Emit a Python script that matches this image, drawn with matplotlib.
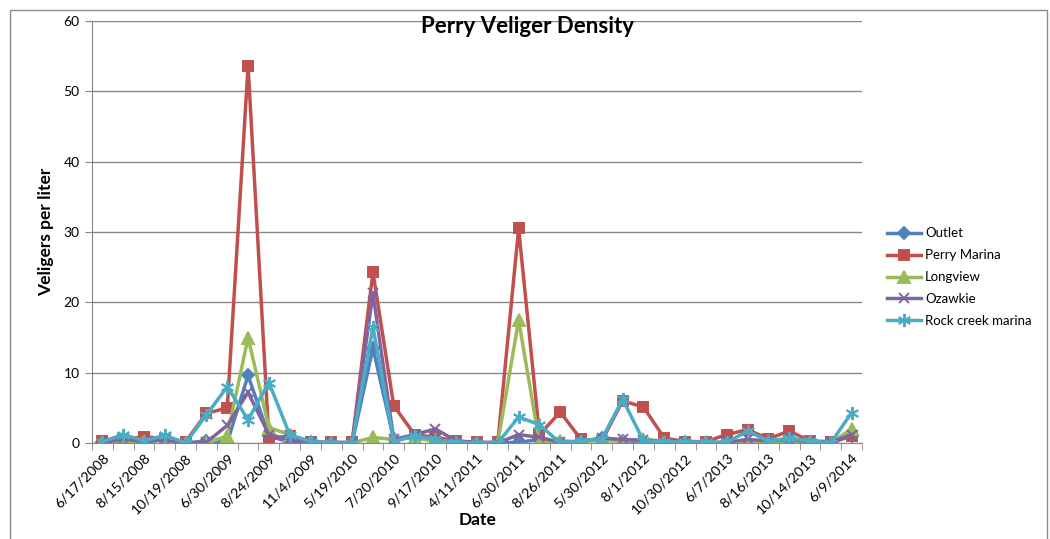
import matplotlib
matplotlib.use('Agg')
import matplotlib.pyplot as plt
from matplotlib.patches import Rectangle
from matplotlib.ticker import MultipleLocator, FixedLocator

plt.rcParams['font.family'] = ['Lato', 'DejaVu Sans']

# sampling dates (37 samples, every other one labelled)
dates = ['6/17/2008', '', '8/15/2008', '', '10/19/2008', '', '6/30/2009', '',
         '8/24/2009', '', '11/4/2009', '', '5/19/2010', '', '7/20/2010', '',
         '9/17/2010', '', '4/11/2011', '', '6/30/2011', '', '8/26/2011', '',
         '5/30/2012', '', '8/1/2012', '', '10/30/2012', '', '6/7/2013', '',
         '8/16/2013', '', '10/14/2013', '', '6/9/2014']

outlet = [0.1, 0.5, 0.1, 0.5, 0.0, 0.3, 0.1, 9.6, 1.0, 0.1, 0.1, 0.0, 0.0, 13.5,
          0.5, 0.8, 0.3, 0.1, 0.0, 0.0, 0.1, 0.5, 0.1, 0.2, 0.7, 0.3, 0.2, 0.1,
          0.1, 0.0, 0.0, 0.2, 0.1, 0.3, 0.1, 0.0, 1.0]
perry_marina = [0.3, 0.5, 0.9, 0.6, 0.2, 4.2, 5.0, 53.6, 0.6, 1.0, 0.2, 0.1, 0.1,
                24.3, 5.3, 1.2, 0.8, 0.3, 0.1, 0.1, 30.5, 1.2, 4.4, 0.5, 0.3, 6.0,
                5.1, 0.7, 0.2, 0.2, 1.2, 1.9, 0.6, 1.7, 0.3, 0.2, 1.0]
longview = [0.0, 0.2, 0.3, 0.4, 0.0, 0.0, 1.0, 15.0, 2.2, 1.2, 0.1, 0.0, 0.0, 0.8,
            0.5, 0.8, 0.2, 0.0, 0.0, 0.0, 17.5, 0.0, 0.3, 0.2, 0.4, 0.2, 0.6, 0.2,
            0.1, 0.1, 0.0, 0.1, 0.0, 0.2, 0.1, 0.0, 2.0]
ozawkie = [0.0, 0.6, 0.2, 0.5, 0.0, 0.1, 2.5, 7.2, 1.2, 0.5, 0.1, 0.0, 0.0, 21.3,
           0.5, 1.2, 2.0, 0.3, 0.0, 0.0, 1.2, 0.8, 0.1, 0.2, 0.7, 0.5, 0.4, 0.2,
           0.1, 0.1, 0.1, 0.5, 0.3, 0.5, 0.2, 0.1, 1.2]
rock_creek = [0.2, 1.2, 0.3, 1.1, 0.0, 4.0, 8.0, 3.3, 8.6, 1.2, 0.2, 0.0, 0.0, 16.5,
              0.2, 1.0, 0.5, 0.1, 0.0, 0.0, 3.7, 2.6, 0.0, 0.3, 0.6, 6.2, 0.3, 0.2,
              0.1, 0.1, 0.1, 1.7, 0.3, 0.7, 0.3, 0.0, 4.3]

fig = plt.figure(figsize=(10.5, 5.39), dpi=100)
ax = fig.add_axes([92 / 1050, 1 - 443 / 539, 770 / 1050, 422 / 539])

# outer chart border like the spreadsheet chart area
fig.patches.append(Rectangle((10 / 1050, -0.01), 1037 / 1050, 1 - 10 / 539 + 0.01,
                             transform=fig.transFigure, fill=False,
                             edgecolor='#8c8c8c', linewidth=1))

xs = list(range(len(dates)))
series = [
    ('Outlet', outlet, '#4F81BD', 'D', 6.5),
    ('Perry Marina', perry_marina, '#C0504D', 's', 7.5),
    ('Longview', longview, '#9BBB59', '^', 8.5),
    ('Ozawkie', ozawkie, '#8064A2', 'x', 7.5),
    ('Rock creek marina', rock_creek, '#4BACC6', (6, 2, 0), 9.5),
]
for name, vals, col, mk, ms in series:
    ax.plot(xs, vals, color=col, linewidth=2.5, marker=mk, markersize=ms,
            markeredgewidth=1.4, markerfacecolor=col, markeredgecolor=col, label=name)

ax.set_xlim(-0.5, len(dates) - 0.5)
ax.set_ylim(0, 60)
ax.yaxis.set_major_locator(MultipleLocator(10))
ax.grid(axis='y', color='#868686', linewidth=1)
ax.set_axisbelow(True)

ax.xaxis.set_major_locator(FixedLocator(xs[::2]))
ax.set_xticklabels(dates[::2], rotation=45, ha='right', rotation_mode='anchor', fontsize=10.3)
ax.xaxis.set_minor_locator(FixedLocator([i + 0.5 for i in range(-1, len(dates))]))
ax.tick_params(axis='x', which='major', length=0, pad=6)
ax.tick_params(axis='x', which='minor', length=5, color='#868686', direction='out')
ax.tick_params(axis='y', length=5, color='#868686', labelsize=10, pad=4)

for s in ['top', 'right']:
    ax.spines[s].set_visible(False)
ax.spines['left'].set_color('#868686')
ax.spines['bottom'].set_color('#868686')

ax.set_title('Perry Veliger Density', fontsize=16, fontweight='bold', x=0.566, y=0.972, pad=0)
ax.set_ylabel('Veligers per liter', fontsize=12.5, fontweight='bold', labelpad=7)
fig.text(478 / 1050, 1 - 520 / 539, 'Date', fontsize=12.5, fontweight='bold',
         ha='center', va='center')

ax.legend(loc='center left', bbox_to_anchor=(1.017, 0.393), frameon=False,
          fontsize=9.5, handlelength=2.6, labelspacing=0.75, handletextpad=0.3)

fig.savefig('out.png', dpi=100)
